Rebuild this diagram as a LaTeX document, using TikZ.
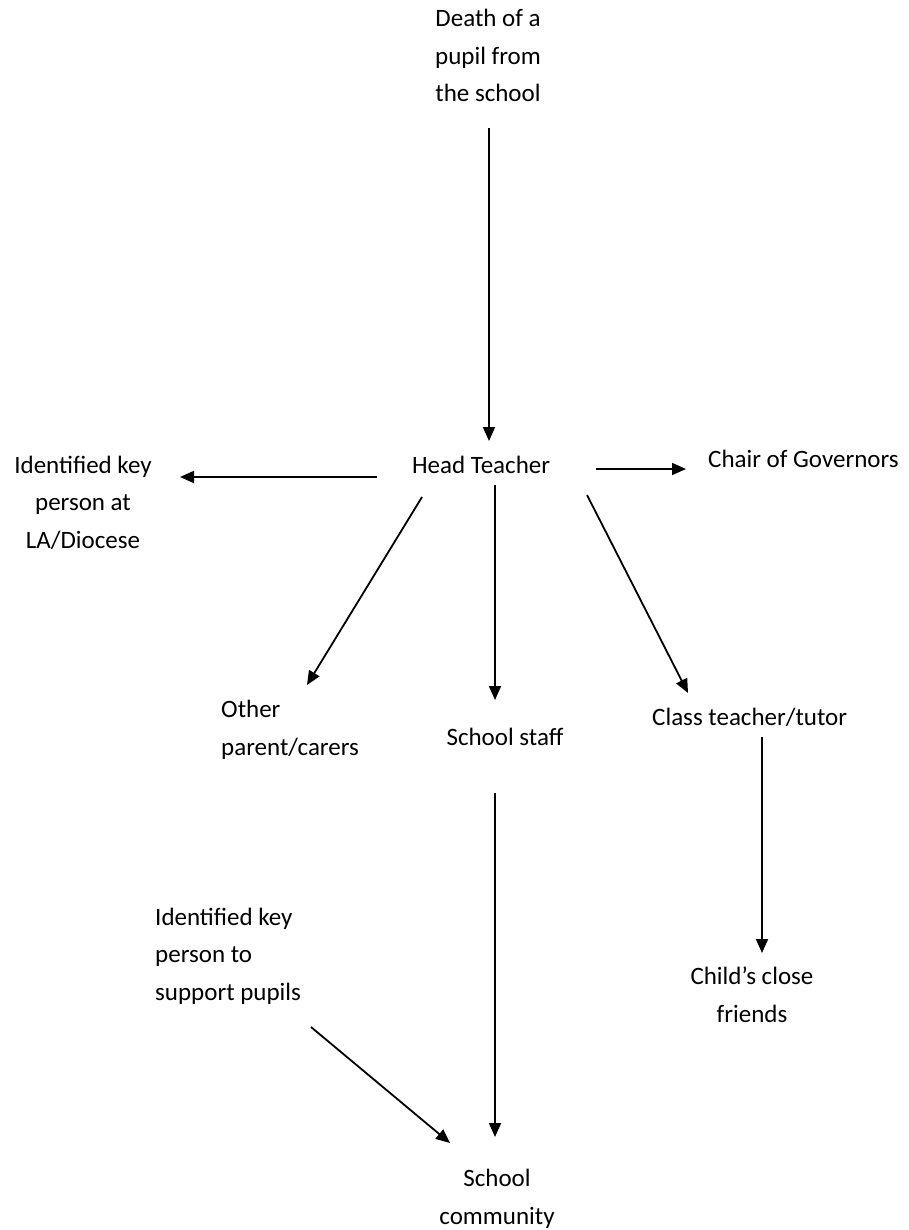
\documentclass[tikz,border=0pt]{standalone}
\usepackage{fontspec}
\setmainfont{Carlito}
\usetikzlibrary{arrows.meta,calc}
\begin{document}
\begin{tikzpicture}[x=1pt,y=-1pt,
  lbl/.style={inner sep=0pt, font=\fontsize{25}{37.5}\selectfont, align=center},
  lbll/.style={lbl, align=left},
  arr/.style={line width=1.8pt, -{Triangle[length=14pt,width=12pt]}}]
\fill[white] (0,0) rectangle (908,1230);
\useasboundingbox (0,0) rectangle (908,1230);

% anchor=base of a multi-line node is the baseline of its last line
\node[lbl, anchor=base] (death) at (488,102) {Death of a\\pupil from\\the school};
\node[lbl, anchor=base] (ht) at (481,473) {Head Teacher};
\node[lbl, anchor=base] (lad) at (83,548) {Identified key\\person at\\LA/Diocese};
\node[lbl, anchor=base west] (chair) at (708,467) {Chair of Governors};
\node[lbll, anchor=base west] (other) at (221,755) {Other\\parent/carers};
\node[lbl, anchor=base] (staff) at (505,745) {School staff};
\node[lbl, anchor=base west] (class) at (652,725) {Class teacher/tutor};
\node[lbl, anchor=base] (friends) at (752,1022) {Child's close\\friends};
\node[lbll, anchor=base west] (support) at (155,1000) {Identified key\\person to\\support pupils};
\node[lbl, anchor=base] (community) at (497,1224) {School\\community};

\draw[arr] ($(death.base)+(1,26)$) -- ($(ht.base)+(8,-32)$);
\draw[arr] ($(ht.base)+(-104,4)$) -- ($(lad.base)+(97,-71)$);
\draw[arr] ($(ht.base)+(115,-4)$) -- ($(chair.base west)+(-22,2)$);
\draw[arr] ($(ht.base)+(-59,24)$) -- ($(other.base west)+(86,-70)$);
\draw[arr] ($(ht.base)+(14,12)$) -- ($(staff.base)+(-10,-45)$);
\draw[arr] ($(ht.base)+(106,22)$) -- ($(class.base west)+(36,-32)$);
\draw[arr] ($(class.base west)+(110,12)$) -- ($(friends.base)+(10,-69)$);
\draw[arr] ($(staff.base)+(-10,48)$) -- ($(community.base)+(-2,-87)$);
\draw[arr] ($(support.base west)+(156,27)$) -- ($(community.base)+(-47,-81)$);
\end{tikzpicture}
\end{document}
